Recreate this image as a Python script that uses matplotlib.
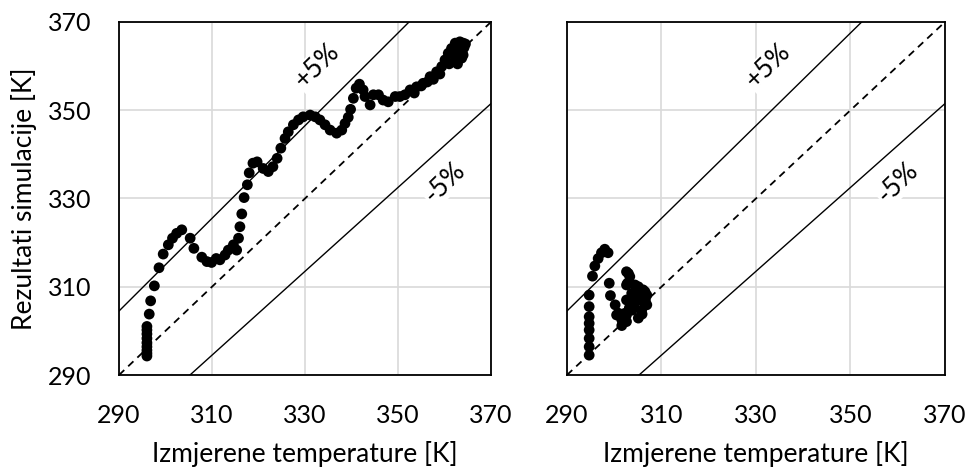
import numpy as np
import matplotlib
matplotlib.use("Agg")
import matplotlib.pyplot as plt

plt.rcParams['font.family'] = ['Lato', 'DejaVu Sans']

# Izmjerene (x) i simulirane (y) temperature, lijevi graf
meas_a = [296.0, 296.0, 296.0, 296.0, 296.0, 296.0, 296.0, 296.0, 296.0,
          296.5, 296.8, 297.6, 298.6, 299.5, 300.6, 301.5, 302.4, 303.5,
          305.3, 306.1, 307.8, 308.9, 309.9, 310.9, 311.7, 312.8, 313.5,
          314.6, 315.3, 315.7, 316.0, 316.4, 316.9, 317.6, 318.0, 318.8,
          319.7, 321.0, 322.1, 323.1, 324.0, 324.8, 325.7, 326.4, 327.5,
          328.6, 329.6, 331.1, 332.2, 333.2, 334.3, 335.4, 336.8, 337.9,
          338.6, 339.3, 339.8, 340.4, 341.0, 341.7, 342.5, 342.9, 344.0,
          344.7, 345.8, 346.8, 347.9, 349.4, 350.4, 351.5, 352.6, 353.5,
          354.0, 355.0, 355.4, 356.3, 356.9, 357.6, 358.3, 359.0, 359.4,
          360.1, 360.8, 361.0, 361.5, 362.0, 362.3, 362.6, 362.8, 363.0,
          363.3, 363.7, 363.8, 364.0, 364.2, 364.5, 364.0, 363.5]
sim_a = [294.3, 294.9, 295.6, 296.4, 297.3, 298.3, 299.3, 300.2, 301.0,
         303.8, 306.8, 310.2, 314.3, 317.4, 319.5, 321.0, 322.1, 322.9,
         321.0, 318.7, 316.7, 315.7, 315.5, 316.4, 316.1, 317.2, 318.3,
         319.5, 318.3, 321.0, 323.6, 326.5, 330.2, 333.1, 335.8, 338.0,
         338.3, 336.8, 336.1, 337.2, 339.1, 341.4, 343.6, 345.1, 346.7,
         347.8, 348.5, 348.9, 348.5, 347.8, 346.7, 345.5, 344.8, 345.5,
         347.0, 348.4, 350.2, 352.7, 355.0, 355.9, 354.6, 353.1, 351.2,
         353.5, 353.5, 352.3, 351.9, 353.1, 353.1, 353.5, 354.6, 353.9,
         355.3, 355.5, 356.1, 356.4, 357.6, 357.0, 358.7, 358.2, 359.9,
         361.4, 362.9, 360.5, 364.0, 362.5, 365.2, 361.4, 360.5, 363.8,
         365.5, 361.8, 363.0, 365.2, 364.2, 365.0, 362.5, 364.6]

# Izmjerene (x) i simulirane (y) temperature, desni graf
meas_b = [294.7, 294.7, 294.7, 294.7, 294.7, 294.7, 294.7, 294.7,
          295.4, 295.9, 296.6, 297.3, 298.0, 298.7, 298.95, 299.2,
          300.2, 300.5, 300.9, 301.6, 301.6, 302.3, 302.6, 302.6,
          302.6, 302.6, 302.6, 302.8, 303.0, 303.3, 303.7, 303.8,
          304.0, 304.4, 304.4, 305.1, 305.1, 305.4, 305.8, 306.1,
          306.5, 306.9, 306.9, 305.3, 304.6, 306.4, 301.3, 305.6,
          306.6, 304.2, 303.2, 305.9]
sim_b = [294.5, 296.4, 298.3, 300.2, 301.7, 303.2, 305.5, 308.1,
         312.4, 314.7, 316.4, 317.7, 318.5, 317.7, 310.8, 308.0,
         305.9, 303.6, 304.0, 302.5, 301.2, 304.0, 313.4, 310.4,
         307.0, 303.6, 302.1, 310.8, 313.0, 312.3, 308.5, 304.7,
         306.2, 310.4, 308.1, 310.0, 302.9, 307.0, 304.7, 309.3,
         308.9, 308.1, 305.9, 307.2, 308.8, 306.8, 303.3, 309.0,
         307.0, 306.0, 305.2, 303.8]

ticks = [290, 310, 330, 350, 370]
ref_line = [290, 370]
band = 0.05

fig = plt.figure(figsize=(9.7, 4.72), dpi=100)
ax1 = fig.add_axes([0.1227, 0.2055, 0.3835, 0.748])
ax2 = fig.add_axes([0.5845, 0.2055, 0.3897, 0.748])

for ax, xs, ys in [(ax1, meas_a, sim_a), (ax2, meas_b, sim_b)]:
    ax.set_xlim(290, 370)
    ax.set_ylim(290, 370)
    ax.set_xticks(ticks)
    ax.set_yticks(ticks)
    ax.grid(True, color='#d9d9d9', linewidth=1.2, zorder=0)
    ax.set_axisbelow(True)
    ax.tick_params(length=0, labelsize=18)
    ax.tick_params(axis='x', pad=21)
    ax.tick_params(axis='y', pad=20)
    for sp in ax.spines.values():
        sp.set_linewidth(1.3)
        sp.set_color('black')

    x = np.array(ref_line, dtype=float)
    ax.plot(x, x, color='black', linestyle=(0, (4, 3)), linewidth=1.3, zorder=2)
    ax.plot(x, x * (1 + band), color='black', linewidth=1.0, zorder=2)
    ax.plot(x, x * (1 - band), color='black', linewidth=1.0, zorder=2)

    ax.scatter(xs, ys, s=60, color='black', edgecolors='none', zorder=3,
               clip_on=False)

    ax.text(332.5, 360.0, '+5%', rotation=44, fontsize=19, ha='center',
            va='center', bbox=dict(facecolor='white', edgecolor='none', pad=1),
            zorder=2.5)
    ax.text(360.0, 333.5, '-5%', rotation=44, fontsize=19, ha='center',
            va='center', bbox=dict(facecolor='white', edgecolor='none', pad=1),
            zorder=2.5)
    ax.set_xlabel('Izmjerene temperature [K]', fontsize=19, labelpad=10)

ax1.set_ylabel('Rezultati simulacije [K]', fontsize=19, labelpad=8)
ax2.tick_params(labelleft=False)

fig.savefig('out.png', dpi=100)
